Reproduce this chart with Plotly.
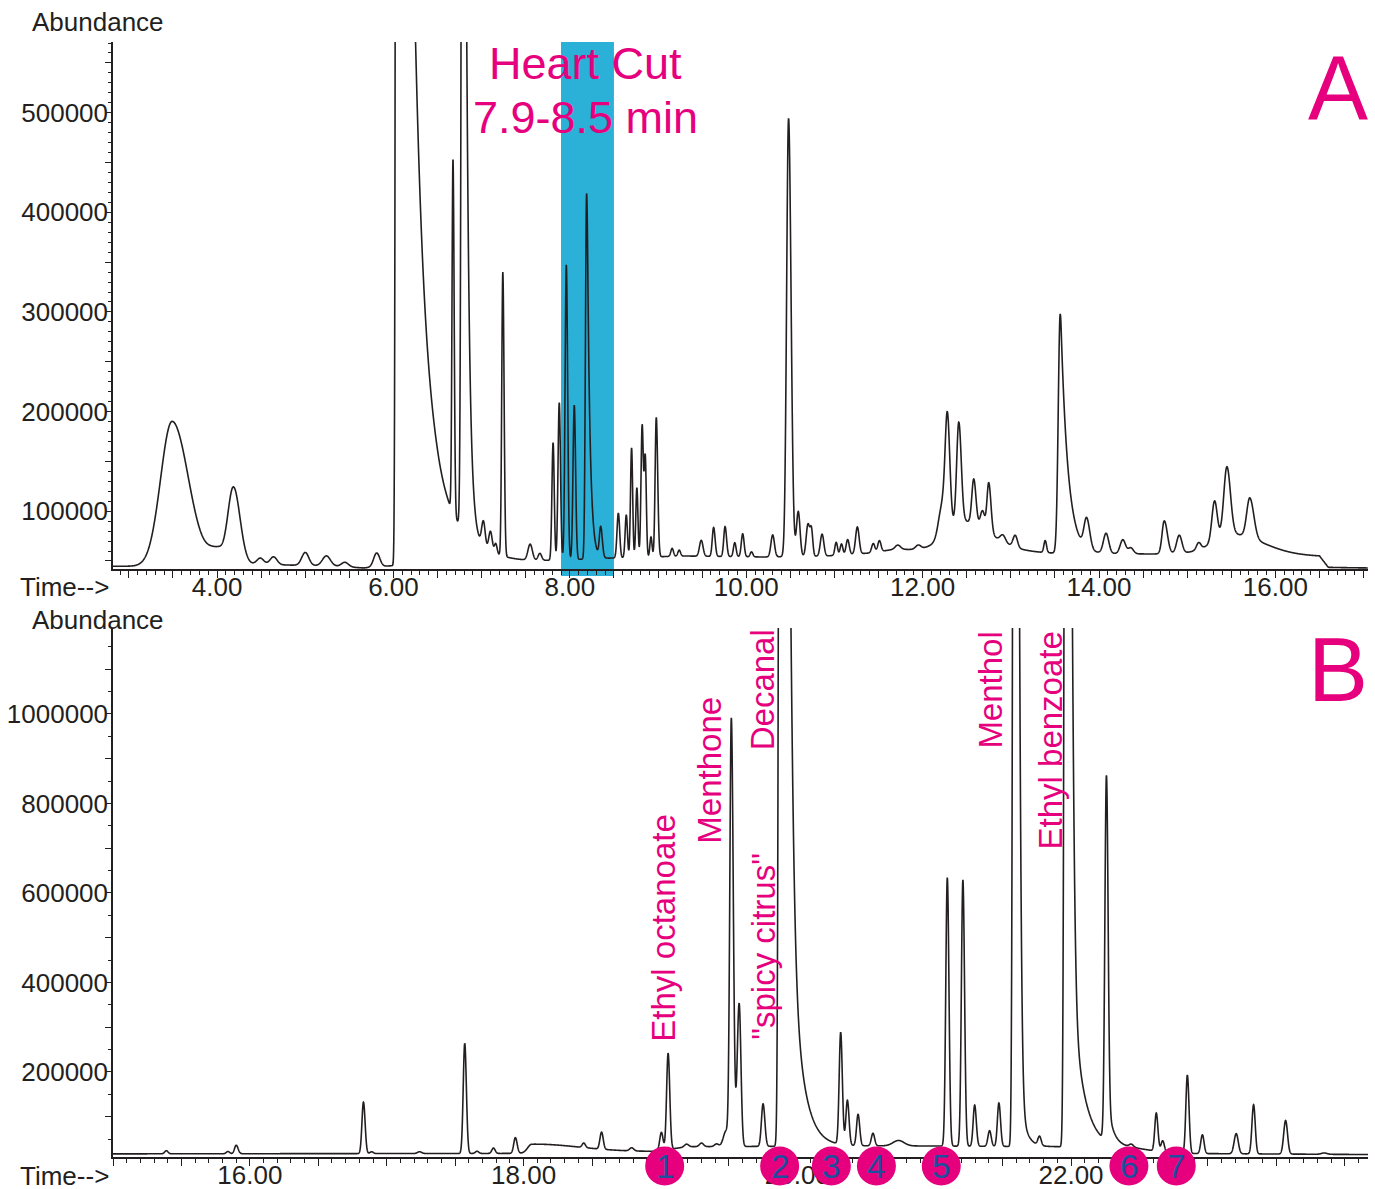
import numpy as np
import plotly.graph_objects as go

# ---------------- Panel A : full chromatogram ----------------
A_base_t = [2.82, 3.20, 4.40, 4.77, 5.30, 5.66, 5.95, 6.30, 7.60, 8.50, 9.30, 10.20, 10.90, 11.40, 11.70, 12.10, 13.00, 13.45, 14.60, 15.10, 16.00, 16.50, 16.60, 17.05]
A_base_v = [44700, 44700, 46500, 46000, 45000, 43000, 45000, 47000, 50000, 53000, 55000, 54000, 55000, 58000, 62000, 60000, 60000, 58000, 57000, 58000, 56000, 54800, 43500, 43000]

# peak table: retention time, height above baseline, left width, right width, tail constant (0 = none)
A_rt  = [3.49, 4.00, 4.185, 4.49, 4.64, 5.00, 5.24, 5.45, 5.81, 6.04, 6.50, 6.675, 6.79, 7.02, 7.10, 7.16, 7.24, 7.55, 7.66,
         7.81, 7.88, 7.96, 8.05, 8.19, 8.35, 8.55, 8.64, 8.70, 8.76, 8.82, 8.855, 8.92, 8.98,
         9.16, 9.24, 9.49, 9.63, 9.76, 9.87, 9.96, 10.06, 10.30, 10.48, 10.59, 10.70, 10.74, 10.86,
         11.02, 11.08, 11.15, 11.26, 11.44, 11.51, 11.72, 11.95, 12.45, 12.22, 12.28, 12.41, 12.58, 12.68, 12.75,
         12.91, 13.05, 13.39, 13.56, 13.86, 14.08, 14.27, 14.36, 14.74, 14.91, 15.13, 15.50, 15.31, 15.45, 15.71]
A_h   = [145000, 14000, 78000, 6500, 8000, 13000, 10000, 4500, 14000, 2400000, 30000, 355000, 1500000, 25000, 20000, 10000, 285000, 16000, 7000,
         118000, 158000, 296000, 155000, 367000, 30000, 45000, 43000, 110000, 70000, 132000, 100000, 20000, 140000,
         8000, 6000, 16000, 29000, 30000, 14000, 23000, 5000, 22000, 440000, 45000, 32000, 25000, 22000,
         13000, 11000, 15000, 27000, 9000, 11000, 4000, 4000, 30000, 30000, 115000, 100000, 45000, 18000, 50000,
         7000, 12000, 12000, 240000, 30000, 20000, 14000, 6000, 33000, 18000, 7000, 20000, 40000, 68000, 40000]
A_wl  = [0.13, 0.10, 0.065, 0.04, 0.04, 0.04, 0.045, 0.04, 0.035, 0.012, 0.15, 0.011, 0.016, 0.02, 0.02, 0.015, 0.012, 0.025, 0.02,
         0.013, 0.014, 0.014, 0.014, 0.013, 0.015, 0.015, 0.013, 0.012, 0.012, 0.013, 0.012, 0.012, 0.013,
         0.015, 0.015, 0.02, 0.015, 0.015, 0.015, 0.016, 0.015, 0.02, 0.022, 0.02, 0.02, 0.015, 0.02,
         0.015, 0.015, 0.018, 0.02, 0.018, 0.018, 0.03, 0.03, 0.20, 0.04, 0.025, 0.024, 0.022, 0.025, 0.02,
         0.03, 0.025, 0.015, 0.022, 0.03, 0.03, 0.03, 0.03, 0.025, 0.03, 0.025, 0.20, 0.03, 0.035, 0.035]
A_wr  = [0.185, 0.06, 0.075, 0.04, 0.04, 0.04, 0.045, 0.04, 0.035, 0.010, 0.40, 0.013, 0.016, 0.02, 0.02, 0.015, 0.014, 0.025, 0.02,
         0.013, 0.014, 0.015, 0.015, 0.020, 0.018, 0.015, 0.013, 0.012, 0.012, 0.013, 0.012, 0.012, 0.016,
         0.015, 0.015, 0.02, 0.017, 0.017, 0.015, 0.016, 0.015, 0.02, 0.028, 0.02, 0.02, 0.015, 0.02,
         0.015, 0.015, 0.018, 0.02, 0.018, 0.018, 0.03, 0.03, 0.30, 0.03, 0.028, 0.028, 0.025, 0.025, 0.025,
         0.03, 0.025, 0.015, 0.030, 0.035, 0.03, 0.03, 0.03, 0.035, 0.03, 0.025, 0.35, 0.03, 0.04, 0.045]
A_tau = [0, 0, 0, 0, 0, 0, 0, 0, 0, 0.137, 0, 0, 0.034, 0, 0, 0, 0, 0, 0,
         0, 0, 0, 0, 0.03, 0, 0, 0, 0, 0, 0, 0, 0, 0,
         0, 0, 0, 0, 0, 0, 0, 0, 0, 0, 0, 0, 0, 0,
         0, 0, 0, 0, 0, 0, 0, 0, 0, 0, 0, 0, 0, 0, 0,
         0, 0, 0, 0.08, 0, 0, 0, 0, 0, 0, 0, 0, 0, 0, 0]

# ---------------- Panel B : heart-cut 7.9-8.5 min ----------------
B_base_t = [15.0, 17.90, 18.95, 19.20, 20.70, 21.90, 22.45, 22.75, 24.17]
B_base_v = [17000, 18000, 22000, 33000, 35000, 33000, 30000, 18000, 15500]

B_rt  = [15.39, 15.84, 15.90, 16.83, 16.89, 17.24, 17.57, 17.66, 17.78, 17.94, 18.06, 18.44, 18.57, 18.79,
         19.007, 19.056, 19.19, 19.30, 19.41, 19.48, 19.518, 19.575, 19.75, 19.875, 19.92,
         20.317, 20.366, 20.444, 20.553, 20.74, 21.096, 21.21, 21.296, 21.405, 21.473, 21.587, 21.62, 21.77,
         21.962, 22.00, 22.258, 22.27, 22.44, 22.623, 22.67, 22.85, 22.96, 23.207, 23.334, 23.568, 23.85]
B_h   = [7000, 5000, 19000, 115000, 4000, 4000, 246000, 5000, 12000, 35000, 20000, 10000, 38000, 7000,
         40000, 215000, 6000, 8000, 6000, 35000, 952000, 320000, 95000, 3000000, 800000,
         250000, 100000, 70000, 28000, 12000, 600000, 595000, 92000, 35000, 97000, 3500000, 140000, 20000,
         3000000, 400000, 775000, 80000, 6000, 85000, 25000, 175000, 42000, 45000, 110000, 75000, 3000]
B_wl  = [0.012, 0.012, 0.012, 0.011, 0.012, 0.015, 0.011, 0.012, 0.012, 0.012, 0.03, 0.012, 0.012, 0.015,
         0.012, 0.011, 0.015, 0.015, 0.015, 0.02, 0.011, 0.014, 0.012, 0.010, 0.02,
         0.011, 0.011, 0.011, 0.012, 0.04, 0.011, 0.011, 0.011, 0.012, 0.011, 0.010, 0.01, 0.012,
         0.010, 0.01, 0.011, 0.01, 0.015, 0.011, 0.012, 0.011, 0.012, 0.015, 0.012, 0.014, 0.02]
B_wr  = [0.012, 0.012, 0.014, 0.012, 0.012, 0.015, 0.012, 0.012, 0.012, 0.013, 0.35, 0.012, 0.012, 0.015,
         0.012, 0.012, 0.015, 0.015, 0.015, 0.02, 0.014, 0.013, 0.013, 0.045, 0.01,
         0.012, 0.012, 0.012, 0.012, 0.04, 0.012, 0.012, 0.012, 0.012, 0.012, 0.024, 0.01, 0.012,
         0.030, 0.01, 0.012, 0.01, 0.015, 0.012, 0.012, 0.012, 0.012, 0.015, 0.012, 0.014, 0.02]
B_tau = [0, 0, 0, 0, 0, 0, 0, 0, 0, 0, 0, 0, 0, 0,
         0, 0, 0, 0, 0, 0, 0, 0, 0, 0, 0.075,
         0, 0, 0, 0, 0, 0, 0, 0, 0, 0, 0, 0.04, 0,
         0, 0.08, 0, 0.04, 0, 0, 0, 0, 0, 0, 0, 0, 0]

# annotations
B_labels   = ["Ethyl octanoate", "Menthone", "\"spicy citrus\"", "Decanal", "Menthol", "Ethyl benzoate"]
B_label_t  = [19.024, 19.36, 19.747, 19.744, 21.405, 21.85]
B_label_y  = [0.2054, 0.3471, 0.1892, 0.4188, 0.4188, 0.374]
circ_num   = ["1", "2", "3", "4", "5", "6", "7"]
circ_t     = [19.031, 19.871, 20.249, 20.578, 21.052, 22.423, 22.769]

PINK = "#E6007E"
CYAN = "#2BB0D7"
BLUE = "#1D4F9E"
INK = "#231F20"
FONT = "Liberation Sans, Arial, sans-serif"


def render(t, base_t, base_v, rt, h, wl, wr, tau):
    y = np.interp(t, base_t, base_v)
    for r, hh, a, b, c in zip(rt, h, wl, wr, tau):
        d = t - r
        left = d < 0
        s = np.where(left, a, b)
        g = np.exp(-0.5 * (d / s) ** 2)
        if c > 0:
            d0 = b * b / c
            tail = np.exp(np.minimum(0.5 * (d0 / b) ** 2 - d / c, 50))
            g = np.where((~left) & (d > d0), tail, g)
        y = y + hh * g
    return y


tA = np.arange(2.82, 17.05, 0.002)
yA = render(tA, A_base_t, A_base_v, A_rt, A_h, A_wl, A_wr, A_tau)
tB = np.arange(15.0, 24.17, 0.001)
yB = render(tB, B_base_t, B_base_v, B_rt, B_h, B_wl, B_wr, B_tau)

fig = go.Figure()
fig.add_trace(go.Scatter(x=tA, y=yA, mode="lines", line=dict(color=INK, width=1.6, simplify=False),
                         xaxis="x", yaxis="y", showlegend=False, hoverinfo="skip"))
fig.add_trace(go.Scatter(x=tB, y=yB, mode="lines", line=dict(color=INK, width=1.6, simplify=False),
                         xaxis="x2", yaxis="y2", showlegend=False, hoverinfo="skip"))

xa_vals = np.arange(3.0, 17.01, 0.5)
xb_vals = np.arange(15.0, 24.01, 0.5)
ya_vals = np.arange(50000, 570001, 50000)
yb_vals = np.arange(100000, 1190001, 100000)


def xlab(v):
    return f"{v:.2f}" if abs(v / 2 - round(v / 2)) < 1e-6 else ""


common_x = dict(showline=True, linecolor=INK, linewidth=1.5, ticks="outside", ticklen=7, tickwidth=1.2,
                tickcolor=INK, showgrid=False, zeroline=False, automargin=False, ticklabelstandoff=-13,
                tickfont=dict(family=FONT, size=26, color=INK),
                minor=dict(ticks="outside", ticklen=4, tickwidth=1, tickcolor=INK, dtick=0.1, showgrid=False))
common_y = dict(showline=True, linecolor=INK, linewidth=1.5, ticks="outside", ticklen=6, tickwidth=1.2,
                tickcolor=INK, showgrid=False, zeroline=False, automargin=False, ticklabelstandoff=-8,
                tickfont=dict(family=FONT, size=26, color=INK))

fig.update_layout(
    width=1375, height=1189,
    margin=dict(l=113, r=7, t=42, b=32, autoexpand=False),
    paper_bgcolor="white", plot_bgcolor="white",
    font=dict(family=FONT, color=INK),
    xaxis=dict(domain=[0, 1], range=[2.82, 17.05], anchor="y",
               tickmode="array", tickvals=list(xa_vals), ticktext=[xlab(v) for v in xa_vals], **common_x),
    yaxis=dict(domain=[0.5274, 1], range=[42000, 571000], anchor="x",
               tickmode="array", tickvals=list(ya_vals),
               ticktext=[str(int(v)) if v % 100000 == 0 else "" for v in ya_vals],
               minor=dict(ticks="outside", ticklen=3, tickwidth=1, tickcolor=INK, dtick=10000, showgrid=False),
               **common_y),
    xaxis2=dict(domain=[0, 1], range=[15.0, 24.17], anchor="y2",
                tickmode="array", tickvals=list(xb_vals), ticktext=[xlab(v) for v in xb_vals], **common_x),
    yaxis2=dict(domain=[0, 0.4744], range=[10000, 1192000], anchor="x2",
                tickmode="array", tickvals=list(yb_vals),
                ticktext=[str(int(v)) if v % 200000 == 0 else "" for v in yb_vals],
                minor=dict(ticks="outside", ticklen=3, tickwidth=1, tickcolor=INK, dtick=50000, showgrid=False),
                **common_y),
)

shapes = [dict(type="rect", xref="x", yref="paper", x0=7.9, x1=8.5, y0=0.521, y1=1.0,
               fillcolor=CYAN, line=dict(width=0), layer="below")]
for tc in circ_t:
    shapes.append(dict(type="circle", xref="x2", yref="paper", xsizemode="pixel", ysizemode="pixel",
                       xanchor=tc, yanchor=-0.0081, x0=-19.5, x1=19.5, y0=-19.5, y1=19.5,
                       fillcolor=PINK, line=dict(width=0), layer="above"))
fig.update_layout(shapes=shapes)

ann = []
ann.append(dict(text="Abundance", xref="paper", yref="paper", x=-0.012, y=1.0179, showarrow=False,
                font=dict(family=FONT, size=26, color=INK), xanchor="center", yanchor="middle"))
ann.append(dict(text="Abundance", xref="paper", yref="paper", x=-0.012, y=0.4816, showarrow=False,
                font=dict(family=FONT, size=26, color=INK), xanchor="center", yanchor="middle"))
ann.append(dict(text="Time-->", xref="paper", yref="paper", x=-0.039, y=0.5112, showarrow=False,
                font=dict(family=FONT, size=26, color=INK), xanchor="center", yanchor="middle"))
ann.append(dict(text="Time-->", xref="paper", yref="paper", x=-0.039, y=-0.017, showarrow=False,
                font=dict(family=FONT, size=26, color=INK), xanchor="center", yanchor="middle"))
ann.append(dict(text="Heart Cut", xref="x", yref="paper", x=8.18, y=0.981, showarrow=False,
                font=dict(family=FONT, size=45, color=PINK), xanchor="center", yanchor="middle"))
ann.append(dict(text="7.9-8.5 min", xref="x", yref="paper", x=8.18, y=0.932, showarrow=False,
                font=dict(family=FONT, size=45, color=PINK), xanchor="center", yanchor="middle"))
ann.append(dict(text="A", xref="paper", yref="paper", x=0.976, y=0.9587, showarrow=False,
                font=dict(family=FONT, size=90, color=PINK), xanchor="center", yanchor="middle"))
ann.append(dict(text="B", xref="paper", yref="paper", x=0.976, y=0.4368, showarrow=False,
                font=dict(family=FONT, size=90, color=PINK), xanchor="center", yanchor="middle"))
for lab, lt, ly in zip(B_labels, B_label_t, B_label_y):
    ann.append(dict(text=lab, xref="x2", yref="paper", x=lt, y=ly, textangle=-90, showarrow=False,
                    font=dict(family=FONT, size=33, color=PINK), xanchor="center", yanchor="middle"))
for num, tc in zip(circ_num, circ_t):
    ann.append(dict(text=num, xref="x2", yref="paper", x=tc, y=-0.0081, showarrow=False,
                    font=dict(family=FONT, size=33, color=BLUE), xanchor="center", yanchor="middle"))
fig.update_layout(annotations=ann)

fig.write_html("out.html")
